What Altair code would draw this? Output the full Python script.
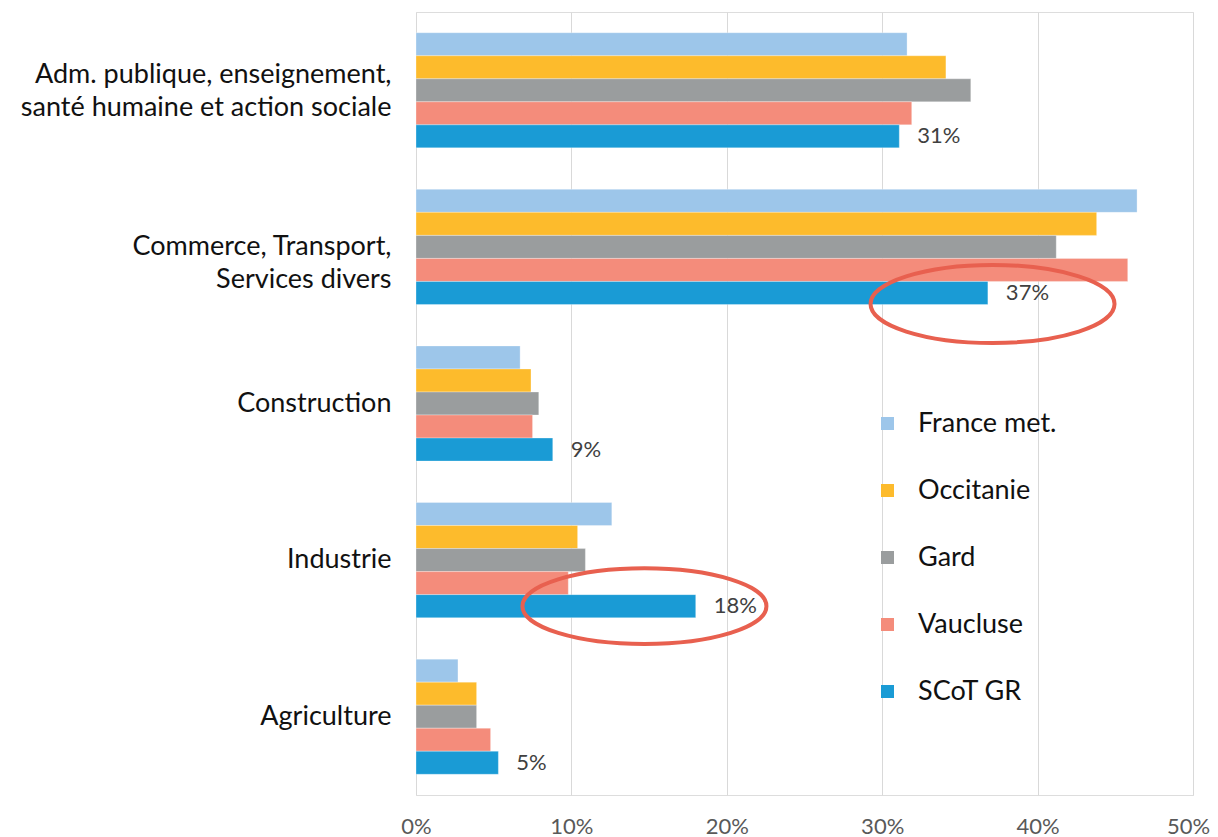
import altair as alt
import pandas as pd

categories = [
    "Adm. publique, enseignement,\nsanté humaine et action sociale",
    "Commerce, Transport,\nServices divers",
    "Construction",
    "Industrie",
    "Agriculture",
]
series = ["France met.", "Occitanie", "Gard", "Vaucluse", "SCoT GR"]
colors = ["#9DC6EA", "#FDBB2C", "#9A9D9E", "#F48C7B", "#1A9BD5"]

france = [31.6, 46.4, 6.7, 12.6, 2.7]
occitanie = [34.1, 43.8, 7.4, 10.4, 3.9]
gard = [35.7, 41.2, 7.9, 10.9, 3.9]
vaucluse = [31.9, 45.8, 7.5, 9.8, 4.8]
scot = [31.1, 36.8, 8.8, 18.0, 5.3]

label_texts = ["31%", "37%", "9%", "18%", "5%"]

# highlight ellipses (annotation)
annot_cats = [categories[1], categories[3]]
annot_x = [37.1, 14.7]
annot_keys = ["e1", "e2"]

values = [france, occitanie, gard, vaucluse, scot]
rows = []
for s, vals in zip(series, values):
    for c, v in zip(categories, vals):
        rows.append({"cat": c, "serie": s, "val": v})
df = pd.DataFrame(rows)

df_lab = pd.DataFrame({"cat": categories, "serie": ["SCoT GR"] * 5, "val": scot, "txt": label_texts})
df_ell = pd.DataFrame({"cat": annot_cats, "serie": ["SCoT GR"] * 2, "val": annot_x, "key": annot_keys})

FONT = "Lato"

y_enc = alt.Y("cat:N", sort=categories,
              scale=alt.Scale(domain=categories, paddingInner=0, paddingOuter=0),
              axis=alt.Axis(title=None, labelExpr="split(datum.label, '\\n')",
                            labelFontSize=27, labelFont=FONT, labelColor="#111111",
                            labelLineHeight=33, labelPadding=25, labelLimit=500,
                            labelOffset={"condition": {"test": "indexof(datum.value, 'Adm.') >= 0",
                                                       "value": -15},
                                         "value": 0},
                            ticks=False, domain=False, labelAlign="right", labelBaseline="middle"))
yoff_enc = alt.YOffset("serie:N", sort=series,
                       scale=alt.Scale(domain=series, paddingOuter=0.9, paddingInner=0))
x_enc = alt.X("val:Q", scale=alt.Scale(domain=[0, 50], nice=False),
              axis=alt.Axis(title=None, values=[0, 10, 20, 30, 40, 50],
                            labelExpr="datum.value + '%'", labelFontSize=22,
                            labelFont=FONT, labelColor="#595959", labelPadding=21,
                            labelFlush=False,
                            labelOffset={"condition": {"test": "datum.value >= 50", "value": -5},
                                         "value": 0},
                            ticks=False, domain=False, grid=True,
                            gridColor="#D9D9D9", gridWidth=1))

bars = alt.Chart(df).mark_bar(stroke="white", strokeWidth=0.6, strokeOpacity=0.5).encode(
    x=x_enc, y=y_enc, yOffset=yoff_enc,
    color=alt.Color("serie:N", sort=series,
                    scale=alt.Scale(domain=series, range=colors),
                    legend=alt.Legend(title=None, orient="none", legendX=458, legendY=398,
                                      symbolType="square", symbolSize=169,
                                      symbolStrokeWidth=0, labelFontSize=27,
                                      labelFont=FONT, labelColor="#111111",
                                      rowPadding=39, labelOffset=17))
)

labels = alt.Chart(df_lab).mark_text(align="left", baseline="middle", dx=18,
                                     fontSize=22, font=FONT, color="#404040").encode(
    x="val:Q", y=alt.Y("cat:N", sort=categories), yOffset=alt.YOffset("serie:N", sort=series), text="txt:N"
)

k = 0.5523
def ell(ry, oy):
    a = ry * k
    return (f"M -1 {oy} C -1 {oy - a} {-k} {oy - ry} 0 {oy - ry} "
            f"C {k} {oy - ry} 1 {oy - a} 1 {oy} "
            f"C 1 {oy + a} {k} {oy + ry} 0 {oy + ry} "
            f"C {-k} {oy + ry} -1 {oy + a} -1 {oy} Z")

ellipses = alt.Chart(df_ell).mark_point(filled=False, strokeWidth=4, color="#E8604F",
                                        opacity=1, size=244 * 244).encode(
    x="val:Q", y=alt.Y("cat:N", sort=categories), yOffset=alt.YOffset("serie:N", sort=series),
    shape=alt.Shape("key:N", scale=alt.Scale(domain=annot_keys,
                                             range=[ell(0.32, 0.09), ell(0.31, 0.0)]),
                    legend=None)
)

chart = alt.layer(bars, labels, ellipses).properties(
    width=777, height=783,
    autosize=alt.AutoSizeParams(type="none"),
    padding={"left": 408, "top": 4, "right": 17, "bottom": 50},
).configure_view(stroke=None).configure(background="white")

chart.save("out.html", embed_options={"renderer": "svg", "actions": False})
